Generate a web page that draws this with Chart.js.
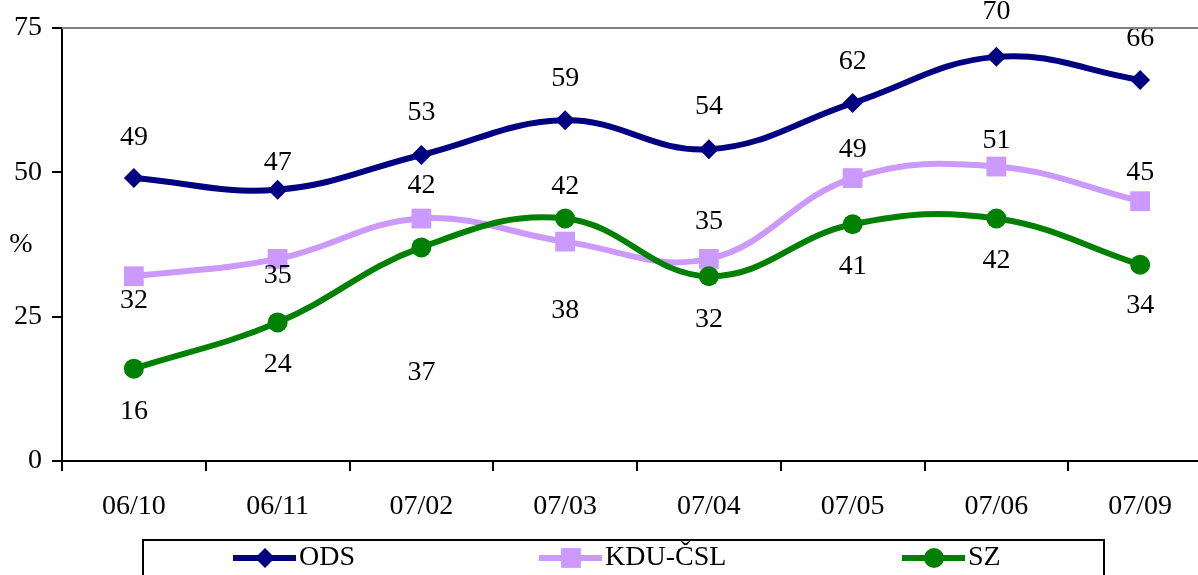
<!DOCTYPE html>
<html>
<head>
<meta charset="utf-8">
<script src="https://cdn.jsdelivr.net/npm/chart.js@4"></script>
<style>
  html, body { margin: 0; padding: 0; background: #fff; overflow: hidden; }
  #wrap { width: 1226px; height: 575px; }
</style>
</head>
<body>
<div id="wrap"><canvas id="chart" width="1226" height="575"></canvas></div>
<script>
var categories = ['06/10', '06/11', '07/02', '07/03', '07/04', '07/05', '07/06', '07/09'];
var odsValues = [49, 47, 53, 59, 54, 62, 70, 66];
var kduValues = [32, 35, 42, 38, 35, 49, 51, 45];
var szValues = [16, 24, 37, 42, 32, 41, 42, 34];
var yTicks = [0, 25, 50, 75];

var serif = '"Liberation Serif", "Times New Roman", serif';
var fontSize = 28;

// value labels, drawn next to every point
var labelPlugin = {
  id: 'valueLabels',
  afterDatasetsDraw: function(chart) {
    var ctx = chart.ctx;
    ctx.save();
    ctx.font = fontSize + 'px ' + serif;
    ctx.fillStyle = '#000';
    ctx.textAlign = 'center';
    ctx.textBaseline = 'middle';
    chart.data.datasets.forEach(function(ds, i) {
      var meta = chart.getDatasetMeta(i);
      meta.data.forEach(function(pt, j) {
        ctx.fillText(ds.data[j], pt.x, pt.y + ds.labelOffsets[j]);
      });
    });
    ctx.restore();
  }
};

// top border, "%" unit and the boxed legend
var framePlugin = {
  id: 'frame',
  afterDraw: function(chart) {
    var ctx = chart.ctx;
    var area = chart.chartArea;
    ctx.save();
    ctx.strokeStyle = '#808080';
    ctx.lineWidth = 2;
    ctx.beginPath();
    ctx.moveTo(area.left, area.top);
    ctx.lineTo(area.right, area.top);
    ctx.stroke();

    ctx.fillStyle = '#000';
    ctx.font = fontSize + 'px ' + serif;
    ctx.textAlign = 'center';
    ctx.textBaseline = 'middle';
    ctx.fillText('%', 21, (area.top + area.bottom) / 2);

    ctx.strokeStyle = '#000';
    ctx.lineWidth = 2;
    ctx.strokeRect(143, 540, 961, 60);

    var starts = [233, 539, 902];
    chart.data.datasets.forEach(function(ds, i) {
      var x0 = starts[i], y = 558;
      ctx.strokeStyle = ds.borderColor;
      ctx.lineWidth = 6;
      ctx.beginPath();
      ctx.moveTo(x0, y);
      ctx.lineTo(x0 + 63, y);
      ctx.stroke();
      ctx.fillStyle = ds.borderColor;
      Chart.helpers.drawPoint(ctx, {
        pointStyle: ds.pointStyle,
        radius: ds.pointRadius,
        rotation: 0,
        borderWidth: 0
      }, x0 + 32, y);
      ctx.fillStyle = '#000';
      ctx.textAlign = 'left';
      ctx.fillText(ds.label, x0 + 66, y);
    });
    ctx.restore();
  }
};

new Chart(document.getElementById('chart'), {
  type: 'line',
  data: {
    labels: categories,
    datasets: [{
      label: 'ODS',
      data: odsValues,
      borderColor: '#000080',
      backgroundColor: '#000080',
      pointStyle: 'rectRot',
      pointRadius: 10,
      labelOffsets: [-40, -27, -42, -42, -43, -41, -45, -41],
      order: 3
    }, {
      label: 'KDU-ČSL',
      data: kduValues,
      borderColor: '#cc99ff',
      backgroundColor: '#cc99ff',
      pointStyle: 'rect',
      pointRadius: 14,
      labelOffsets: [24, 17, -33, 69, -37, -28, -26, -29],
      order: 2
    }, {
      label: 'SZ',
      data: szValues,
      borderColor: '#008000',
      backgroundColor: '#008000',
      pointStyle: 'circle',
      pointRadius: 10,
      labelOffsets: [43, 42, 125, -32, 43, 42, 42, 41],
      order: 1
    }]
  },
  options: {
    responsive: false,
    devicePixelRatio: 1,
    animation: false,
    // canvas is wider than the window: plot area runs past the right edge, as in the original
    layout: { padding: { top: 28, left: 0, right: 0, bottom: 0 } },
    elements: {
      line: { borderWidth: 6, tension: 0.4, fill: false },
      point: { borderWidth: 0, hoverRadius: 10 }
    },
    plugins: {
      legend: { display: false },
      tooltip: { enabled: false },
      title: { display: false }
    },
    scales: {
      x: {
        offset: true,
        grid: { offset: true, drawOnChartArea: false, tickLength: 10, color: '#000', lineWidth: 2 },
        border: { color: '#000', width: 2 },
        ticks: { font: { family: serif, size: fontSize }, color: '#000', padding: 19, maxRotation: 0 },
        afterFit: function(s) { s.height = 114; }
      },
      y: {
        min: 0,
        max: 75,
        afterBuildTicks: function(s) { s.ticks = yTicks.map(function(v) { return { value: v }; }); },
        grid: { drawOnChartArea: false, tickLength: 10, color: '#000', lineWidth: 2 },
        border: { color: '#000', width: 2 },
        ticks: { font: { family: serif, size: fontSize }, color: '#000', padding: 10 },
        afterFit: function(s) { s.width = 62; }
      }
    }
  },
  plugins: [labelPlugin, framePlugin]
});
</script>
</body>
</html>
